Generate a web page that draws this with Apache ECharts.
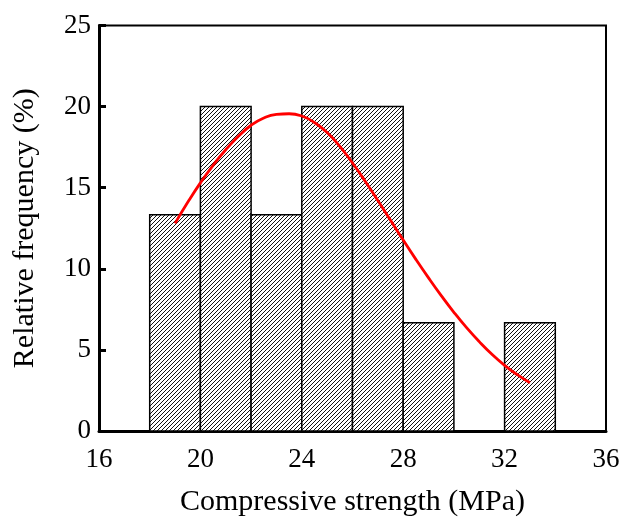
<!DOCTYPE html>
<html>
<head>
<meta charset="utf-8">
<script src="https://cdn.jsdelivr.net/npm/echarts@6/dist/echarts.min.js"></script>
<style>html,body{margin:0;padding:0;background:#fff}#c{width:630px;height:518px}</style>
</head>
<body>
<div id="c"></div>
<script>
// Histogram bins (MPa) and relative frequency (%)
var binStart = [18, 20, 22, 24, 26, 28, 32];
var binEnd   = [20, 22, 24, 26, 28, 30, 34];
var freq     = [13.33, 20, 13.33, 20, 20, 6.67, 6.67];
// Fitted curve points
var curveX = [19.0, 19.5, 20.0, 20.5, 21.0, 21.5, 22.0, 22.5, 23.0, 23.5, 24.0, 24.5, 25.0, 25.5, 26.0, 26.5, 27.0, 27.5, 28.0, 28.5, 29.0, 29.5, 30.0, 30.5, 31.0, 31.5, 32.0, 32.5, 33.0];
var curveY = [12.8, 14.1, 15.3, 16.38, 17.34, 18.17, 18.85, 19.3, 19.52, 19.56, 19.42, 19.02, 18.4, 17.55, 16.52, 15.4, 14.21, 12.99, 11.77, 10.58, 9.44, 8.35, 7.32, 6.37, 5.51, 4.73, 4.05, 3.47, 2.97];
var xTicks = [16, 20, 24, 28, 32, 36];
var yTicks = [0, 5, 10, 15, 20, 25];

var pat = document.createElement('canvas');
pat.width = 4; pat.height = 4;
var g = pat.getContext('2d');
g.fillStyle = '#fff'; g.fillRect(0, 0, 4, 4);
g.strokeStyle = '#111'; g.lineWidth = 1;
g.beginPath();
g.moveTo(-1, 5); g.lineTo(5, -1);
g.moveTo(-1, 1); g.lineTo(1, -1);
g.moveTo(3, 5); g.lineTo(5, 3);
g.stroke();

var barData = binStart.map(function (s, i) { return [s, binEnd[i], freq[i]]; });
var lineData = curveX.map(function (x, i) { return [x, curveY[i]]; });

var font = "'Liberation Serif', 'Times New Roman', serif";
var chart = echarts.init(document.getElementById('c'));
chart.setOption({
  animation: false,
  grid: { left: 99, right: 24, top: 25.5, bottom: 87, show: true, borderColor: '#000', borderWidth: 2, backgroundColor: 'transparent', containLabel: false, outerBoundsMode: 'none' },
  xAxis: {
    type: 'value', min: xTicks[0], max: xTicks[xTicks.length - 1], interval: 4,
    name: 'Compressive strength (MPa)', nameLocation: 'middle', nameGap: 56,
    nameTextStyle: { fontFamily: font, fontSize: 30, color: '#000' },
    axisLine: { show: true, onZero: false, lineStyle: { color: '#000', width: 3 } },
    axisTick: { show: false },
    axisLabel: { fontFamily: font, fontSize: 27, color: '#000', margin: 15 },
    splitLine: { show: false }
  },
  yAxis: {
    type: 'value', min: yTicks[0], max: yTicks[yTicks.length - 1], interval: 5,
    name: 'Relative frequency (%)', nameLocation: 'middle', nameGap: 59,
    nameTextStyle: { fontFamily: font, fontSize: 30, color: '#000' },
    axisLine: { show: true, lineStyle: { color: '#000', width: 3 } },
    axisTick: { show: true, inside: true, length: 7, lineStyle: { color: '#000', width: 3 } },
    axisLabel: { fontFamily: font, fontSize: 27, color: '#000', margin: 8 },
    splitLine: { show: false }
  },
  series: [
    {
      type: 'custom',
      data: barData,
      encode: { x: [0, 1], y: 2 },
      renderItem: function (params, api) {
        var p0 = api.coord([api.value(0), api.value(2)]);
        var p1 = api.coord([api.value(1), 0]);
        return {
          type: 'rect',
          shape: { x: p0[0], y: p0[1], width: p1[0] - p0[0], height: p1[1] - p0[1] },
          style: { fill: { image: pat, repeat: 'repeat' }, stroke: '#000', lineWidth: 1.5 }
        };
      },
      z: 2
    },
    {
      type: 'line',
      data: lineData,
      smooth: 0.5,
      showSymbol: false,
      lineStyle: { color: '#ff0000', width: 2.8 },
      z: 3
    }
  ]
});
</script>
</body>
</html>
